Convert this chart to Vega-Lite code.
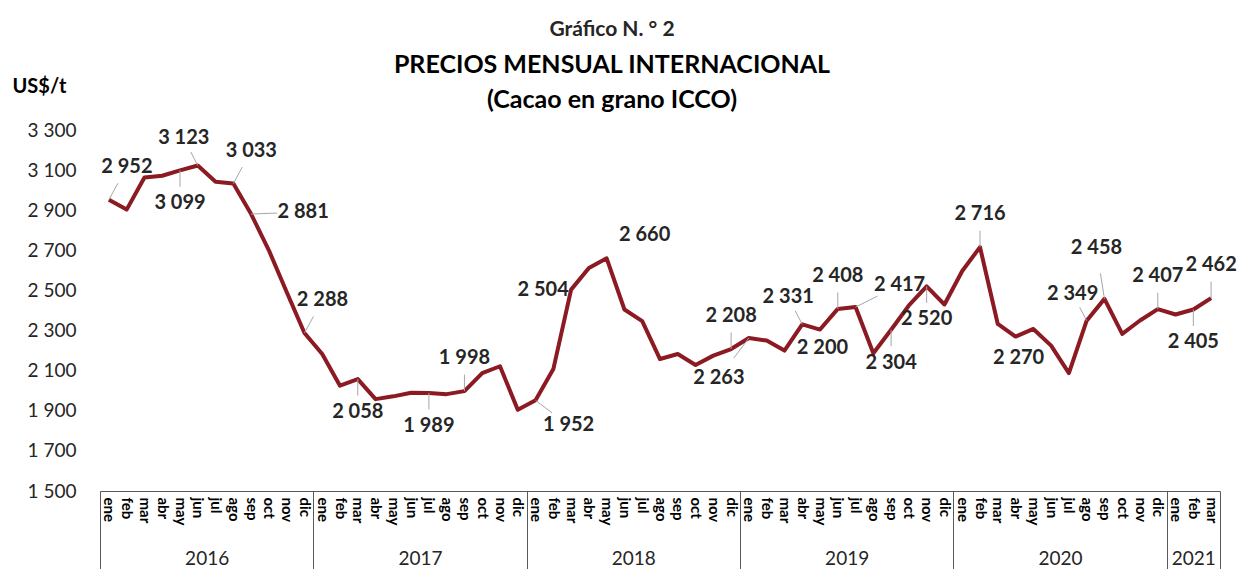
{
  "$schema": "https://vega.github.io/schema/vega-lite/v6.json",
  "width": 1120,
  "height": 361,
  "autosize": "none",
  "padding": {"left": 100, "top": 130, "right": 25, "bottom": 78},
  "background": "white",
  "config": {
    "font": "Lato",
    "view": {"stroke": null},
    "axis": {"grid": false},
    "locale": {"number": {"decimal": ",", "thousands": " ", "grouping": [3], "currency": ["$", ""]}}
  },
  "title": {
    "text": "Gráfico N. ° 2",
    "subtitle": ["PRECIOS MENSUAL INTERNACIONAL", "(Cacao en grano ICCO)"],
    "fontSize": 21,
    "fontWeight": "bold",
    "color": "#262626",
    "subtitleFontSize": 25,
    "subtitleFontWeight": "bold",
    "subtitleColor": "#000000",
    "subtitleLineHeight": 35,
    "subtitlePadding": 13,
    "offset": -37,
    "anchor": "middle",
    "dx": -48
  },
  "datasets": {
    "prices": [
      {"mes": "ene", "anio": 2016, "t": 0, "v": 2952, "pos": "ne"},
      {"mes": "feb", "anio": 2016, "t": 1, "v": 2903},
      {"mes": "mar", "anio": 2016, "t": 2, "v": 3063},
      {"mes": "abr", "anio": 2016, "t": 3, "v": 3072},
      {"mes": "may", "anio": 2016, "t": 4, "v": 3099, "pos": "s"},
      {"mes": "jun", "anio": 2016, "t": 5, "v": 3123, "pos": "nw"},
      {"mes": "jul", "anio": 2016, "t": 6, "v": 3042},
      {"mes": "ago", "anio": 2016, "t": 7, "v": 3033, "pos": "ne"},
      {"mes": "sep", "anio": 2016, "t": 8, "v": 2881, "pos": "e"},
      {"mes": "oct", "anio": 2016, "t": 9, "v": 2700},
      {"mes": "nov", "anio": 2016, "t": 10, "v": 2492},
      {"mes": "dic", "anio": 2016, "t": 11, "v": 2288, "pos": "ne"},
      {"mes": "ene", "anio": 2017, "t": 12, "v": 2183},
      {"mes": "feb", "anio": 2017, "t": 13, "v": 2025},
      {"mes": "mar", "anio": 2017, "t": 14, "v": 2058, "pos": "s"},
      {"mes": "abr", "anio": 2017, "t": 15, "v": 1958},
      {"mes": "may", "anio": 2017, "t": 16, "v": 1972},
      {"mes": "jun", "anio": 2017, "t": 17, "v": 1990},
      {"mes": "jul", "anio": 2017, "t": 18, "v": 1989, "pos": "s"},
      {"mes": "ago", "anio": 2017, "t": 19, "v": 1983},
      {"mes": "sep", "anio": 2017, "t": 20, "v": 1998, "pos": "n"},
      {"mes": "oct", "anio": 2017, "t": 21, "v": 2088},
      {"mes": "nov", "anio": 2017, "t": 22, "v": 2122},
      {"mes": "dic", "anio": 2017, "t": 23, "v": 1905},
      {"mes": "ene", "anio": 2018, "t": 24, "v": 1952, "pos": "se"},
      {"mes": "feb", "anio": 2018, "t": 25, "v": 2108},
      {"mes": "mar", "anio": 2018, "t": 26, "v": 2504, "pos": "w0"},
      {"mes": "abr", "anio": 2018, "t": 27, "v": 2612},
      {"mes": "may", "anio": 2018, "t": 28, "v": 2660, "pos": "ne0"},
      {"mes": "jun", "anio": 2018, "t": 29, "v": 2405},
      {"mes": "jul", "anio": 2018, "t": 30, "v": 2347},
      {"mes": "ago", "anio": 2018, "t": 31, "v": 2158},
      {"mes": "sep", "anio": 2018, "t": 32, "v": 2183},
      {"mes": "oct", "anio": 2018, "t": 33, "v": 2128},
      {"mes": "nov", "anio": 2018, "t": 34, "v": 2175},
      {"mes": "dic", "anio": 2018, "t": 35, "v": 2208, "pos": "n"},
      {"mes": "ene", "anio": 2019, "t": 36, "v": 2263, "pos": "sw"},
      {"mes": "feb", "anio": 2019, "t": 37, "v": 2250},
      {"mes": "mar", "anio": 2019, "t": 38, "v": 2200, "pos": "e0"},
      {"mes": "abr", "anio": 2019, "t": 39, "v": 2331, "pos": "nw"},
      {"mes": "may", "anio": 2019, "t": 40, "v": 2305},
      {"mes": "jun", "anio": 2019, "t": 41, "v": 2408, "pos": "n"},
      {"mes": "jul", "anio": 2019, "t": 42, "v": 2417, "pos": "nee"},
      {"mes": "ago", "anio": 2019, "t": 43, "v": 2187},
      {"mes": "sep", "anio": 2019, "t": 44, "v": 2304, "pos": "s"},
      {"mes": "oct", "anio": 2019, "t": 45, "v": 2425},
      {"mes": "nov", "anio": 2019, "t": 46, "v": 2520, "pos": "s"},
      {"mes": "dic", "anio": 2019, "t": 47, "v": 2430},
      {"mes": "ene", "anio": 2020, "t": 48, "v": 2597},
      {"mes": "feb", "anio": 2020, "t": 49, "v": 2716, "pos": "n"},
      {"mes": "mar", "anio": 2020, "t": 50, "v": 2333},
      {"mes": "abr", "anio": 2020, "t": 51, "v": 2270, "pos": "s0"},
      {"mes": "may", "anio": 2020, "t": 52, "v": 2308},
      {"mes": "jun", "anio": 2020, "t": 53, "v": 2225},
      {"mes": "jul", "anio": 2020, "t": 54, "v": 2088},
      {"mes": "ago", "anio": 2020, "t": 55, "v": 2349, "pos": "nw"},
      {"mes": "sep", "anio": 2020, "t": 56, "v": 2458, "pos": "nn"},
      {"mes": "oct", "anio": 2020, "t": 57, "v": 2283},
      {"mes": "nov", "anio": 2020, "t": 58, "v": 2350},
      {"mes": "dic", "anio": 2020, "t": 59, "v": 2407, "pos": "n"},
      {"mes": "ene", "anio": 2021, "t": 60, "v": 2380},
      {"mes": "feb", "anio": 2021, "t": 61, "v": 2405, "pos": "s"},
      {"mes": "mar", "anio": 2021, "t": 62, "v": 2462, "pos": "n"}
    ],
    "bounds": [
      {"b": -0.5}, {"b": 11.5}, {"b": 23.5}, {"b": 35.5}, {"b": 47.5}, {"b": 59.5}, {"b": 62.5}
    ],
    "years": [
      {"c": 5.5, "anio": "2016"}, {"c": 17.5, "anio": "2017"}, {"c": 29.5, "anio": "2018"},
      {"c": 41.5, "anio": "2019"}, {"c": 53.5, "anio": "2020"}, {"c": 61, "anio": "2021"}
    ]
  },
  "layer": [
    {
      "data": {"name": "prices"},
      "encoding": {
        "x": {
          "field": "t",
          "type": "quantitative",
          "scale": {"domain": [-0.5, 62.5], "nice": false, "zero": false},
          "axis": {
            "orient": "bottom",
            "values": [0,1,2,3,4,5,6,7,8,9,10,11,12,13,14,15,16,17,18,19,20,21,22,23,24,25,26,27,28,29,30,31,32,33,34,35,36,37,38,39,40,41,42,43,44,45,46,47,48,49,50,51,52,53,54,55,56,57,58,59,60,61,62],
            "labelExpr": "['ene','feb','mar','abr','may','jun','jul','ago','sep','oct','nov','dic'][datum.value % 12]",
            "labelAngle": 90,
            "labelAlign": "left",
            "labelBaseline": "middle",
            "labelFontSize": 15,
            "labelFontWeight": "bold",
            "labelColor": "#000000",
            "labelPadding": 6,
            "labelOverlap": false,
            "labelBound": false,
            "labelFlush": false,
            "ticks": false,
            "domain": true,
            "domainColor": "#595959",
            "domainWidth": 1,
            "title": null
          }
        }
      },
      "layer": [
        {
          "mark": {"type": "line", "color": "#8B1A22", "strokeWidth": 4, "strokeJoin": "round"},
          "encoding": {
            "y": {
              "field": "v",
              "type": "quantitative",
              "scale": {"domain": [1500, 3300], "nice": false, "zero": false},
              "axis": {
                "values": [1500, 1700, 1900, 2100, 2300, 2500, 2700, 2900, 3100, 3300],
                "labelExpr": "format(datum.value, ',.0f')",
                "labelFontSize": 19,
                "labelColor": "#262626",
                "labelPadding": 24,
                "ticks": false,
                "domain": false,
                "title": "US$/t",
                "titleAngle": 0,
                "titleX": -88,
                "titleY": -38,
                "titleAlign": "left",
                "titleBaseline": "alphabetic",
                "titleFontSize": 20,
                "titleFontWeight": "bold",
                "titleColor": "#000000"
              }
            }
          }
        },
        {
          "transform": [{"filter": "isValid(datum.pos) && indexof(['e0','w0','ne0','s0'], datum.pos) < 0"}],
          "mark": {
            "type": "rule",
            "color": "#A6A6A6",
            "strokeWidth": 1,
            "x2Offset": {"expr": "0.5 * ({'n':0,'ne':18,'nw':-14,'s':0,'se':33,'sw':-30,'e':52,'e0':38,'w0':-28,'ne0':38,'nee':44,'nn':-8,'s0':3})[datum.pos]"},
            "y2Offset": {"expr": "0.5 * ({'n':-33,'ne':-33,'nw':-27,'s':33,'se':25,'sw':40,'e':-2,'e0':-3,'w0':0,'ne0':-23,'nee':-22,'nn':-51,'s0':21})[datum.pos]"}
          },
          "encoding": {
            "y": {"field": "v", "type": "quantitative"},
            "x2": {"field": "t"},
            "y2": {"field": "v"}
          }
        },
        {
          "transform": [{"filter": "isValid(datum.pos)"}],
          "mark": {
            "type": "text",
            "fontSize": 20,
            "fontWeight": "bold",
            "color": "#262626",
            "dx": {"expr": "({'n':0,'ne':18,'nw':-14,'s':0,'se':33,'sw':-30,'e':52,'e0':38,'w0':-28,'ne0':38,'nee':44,'nn':-8,'s0':3})[datum.pos]"},
            "dy": {"expr": "({'n':-33,'ne':-33,'nw':-27,'s':33,'se':25,'sw':40,'e':-2,'e0':-3,'w0':0,'ne0':-23,'nee':-22,'nn':-51,'s0':21})[datum.pos]"}
          },
          "encoding": {
            "y": {"field": "v", "type": "quantitative"},
            "text": {"field": "v", "type": "quantitative", "format": ","}
          }
        }
      ]
    },
    {
      "data": {"name": "bounds"},
      "mark": {"type": "point", "opacity": 0},
      "encoding": {
        "x": {
          "field": "b",
          "type": "quantitative",
          "scale": {"domain": [-0.5, 62.5], "nice": false, "zero": false},
          "axis": {
            "orient": "bottom",
            "offset": 0,
            "values": [-0.5, 11.5, 23.5, 35.5, 47.5, 59.5, 62.5],
            "labels": false,
            "ticks": true,
            "tickSize": 80,
            "tickColor": "#595959",
            "tickWidth": 1,
            "domain": false,
            "title": null
          }
        }
      }
    },
    {
      "data": {"name": "years"},
      "mark": {"type": "point", "opacity": 0},
      "encoding": {
        "x": {
          "field": "c",
          "type": "quantitative",
          "scale": {"domain": [-0.5, 62.5], "nice": false, "zero": false},
          "axis": {
            "orient": "bottom",
            "offset": 0,
            "values": [5.5, 17.5, 29.5, 41.5, 53.5, 61],
            "labelExpr": "toString(2016 + floor(datum.value / 12))",
            "labelFontSize": 19,
            "labelColor": "#262626",
            "labelAngle": 0,
            "labelBaseline": "top",
            "labelPadding": 58,
            "labelFlush": false,
            "labelOverlap": false,
            "ticks": false,
            "domain": false,
            "title": null
          }
        }
      }
    }
  ],
  "resolve": {"scale": {"x": "independent"}, "axis": {"x": "independent"}}
}
